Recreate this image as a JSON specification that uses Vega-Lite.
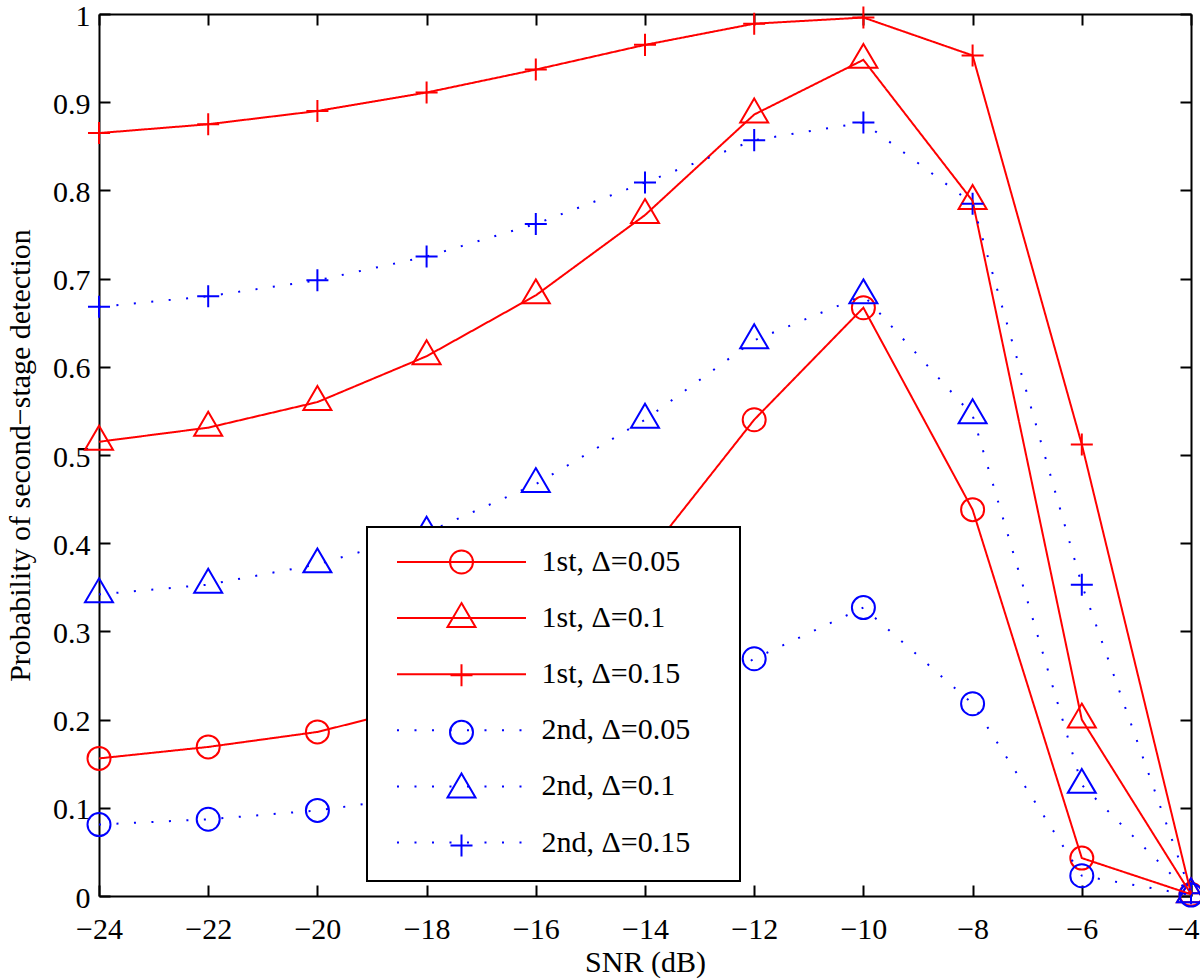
{
  "$schema": "https://vega.github.io/schema/vega-lite/v6.json",
  "width": 1092,
  "height": 882,
  "autosize": {"type": "none"},
  "padding": {"left": 99, "top": 14, "right": 9, "bottom": 84},
  "background": "white",
  "config": {
    "font": "Liberation Serif",
    "view": {"stroke": null},
    "legend": {"strokeWidth": 2},
    "axis": {
      "grid": false,
      "domainColor": "black",
      "domainWidth": 2,
      "tickColor": "black",
      "tickWidth": 2,
      "tickSize": -11,
      "labelFont": "Liberation Serif",
      "labelFontSize": 30,
      "labelColor": "black",
      "titleFont": "Liberation Serif",
      "titleFontSize": 30,
      "titleFontWeight": "normal",
      "titleColor": "black"
    }
  },
  "data": {
    "values": [
      {"snr": -24, "p": 0.156, "curve": "1st, Δ=0.05"},
      {"snr": -22, "p": 0.169, "curve": "1st, Δ=0.05"},
      {"snr": -20, "p": 0.186, "curve": "1st, Δ=0.05"},
      {"snr": -18, "p": 0.217, "curve": "1st, Δ=0.05"},
      {"snr": -16, "p": 0.285, "curve": "1st, Δ=0.05"},
      {"snr": -14, "p": 0.383, "curve": "1st, Δ=0.05"},
      {"snr": -12, "p": 0.540, "curve": "1st, Δ=0.05"},
      {"snr": -10, "p": 0.667, "curve": "1st, Δ=0.05"},
      {"snr": -8, "p": 0.438, "curve": "1st, Δ=0.05"},
      {"snr": -6, "p": 0.043, "curve": "1st, Δ=0.05"},
      {"snr": -4, "p": 0.002, "curve": "1st, Δ=0.05"},
      {"snr": -24, "p": 0.515, "curve": "1st, Δ=0.1"},
      {"snr": -22, "p": 0.531, "curve": "1st, Δ=0.1"},
      {"snr": -20, "p": 0.560, "curve": "1st, Δ=0.1"},
      {"snr": -18, "p": 0.612, "curve": "1st, Δ=0.1"},
      {"snr": -16, "p": 0.681, "curve": "1st, Δ=0.1"},
      {"snr": -14, "p": 0.772, "curve": "1st, Δ=0.1"},
      {"snr": -12, "p": 0.886, "curve": "1st, Δ=0.1"},
      {"snr": -10, "p": 0.948, "curve": "1st, Δ=0.1"},
      {"snr": -8, "p": 0.788, "curve": "1st, Δ=0.1"},
      {"snr": -6, "p": 0.200, "curve": "1st, Δ=0.1"},
      {"snr": -4, "p": 0.002, "curve": "1st, Δ=0.1"},
      {"snr": -24, "p": 0.865, "curve": "1st, Δ=0.15"},
      {"snr": -22, "p": 0.875, "curve": "1st, Δ=0.15"},
      {"snr": -20, "p": 0.890, "curve": "1st, Δ=0.15"},
      {"snr": -18, "p": 0.911, "curve": "1st, Δ=0.15"},
      {"snr": -16, "p": 0.937, "curve": "1st, Δ=0.15"},
      {"snr": -14, "p": 0.965, "curve": "1st, Δ=0.15"},
      {"snr": -12, "p": 0.989, "curve": "1st, Δ=0.15"},
      {"snr": -10, "p": 0.996, "curve": "1st, Δ=0.15"},
      {"snr": -8, "p": 0.953, "curve": "1st, Δ=0.15"},
      {"snr": -6, "p": 0.512, "curve": "1st, Δ=0.15"},
      {"snr": -4, "p": 0.003, "curve": "1st, Δ=0.15"},
      {"snr": -24, "p": 0.081, "curve": "2nd, Δ=0.05"},
      {"snr": -22, "p": 0.087, "curve": "2nd, Δ=0.05"},
      {"snr": -20, "p": 0.097, "curve": "2nd, Δ=0.05"},
      {"snr": -18, "p": 0.114, "curve": "2nd, Δ=0.05"},
      {"snr": -16, "p": 0.146, "curve": "2nd, Δ=0.05"},
      {"snr": -14, "p": 0.196, "curve": "2nd, Δ=0.05"},
      {"snr": -12, "p": 0.269, "curve": "2nd, Δ=0.05"},
      {"snr": -10, "p": 0.327, "curve": "2nd, Δ=0.05"},
      {"snr": -8, "p": 0.218, "curve": "2nd, Δ=0.05"},
      {"snr": -6, "p": 0.023, "curve": "2nd, Δ=0.05"},
      {"snr": -4, "p": 0.001, "curve": "2nd, Δ=0.05"},
      {"snr": -24, "p": 0.342, "curve": "2nd, Δ=0.1"},
      {"snr": -22, "p": 0.353, "curve": "2nd, Δ=0.1"},
      {"snr": -20, "p": 0.376, "curve": "2nd, Δ=0.1"},
      {"snr": -18, "p": 0.412, "curve": "2nd, Δ=0.1"},
      {"snr": -16, "p": 0.467, "curve": "2nd, Δ=0.1"},
      {"snr": -14, "p": 0.540, "curve": "2nd, Δ=0.1"},
      {"snr": -12, "p": 0.630, "curve": "2nd, Δ=0.1"},
      {"snr": -10, "p": 0.681, "curve": "2nd, Δ=0.1"},
      {"snr": -8, "p": 0.545, "curve": "2nd, Δ=0.1"},
      {"snr": -6, "p": 0.126, "curve": "2nd, Δ=0.1"},
      {"snr": -4, "p": 0.002, "curve": "2nd, Δ=0.1"},
      {"snr": -24, "p": 0.668, "curve": "2nd, Δ=0.15"},
      {"snr": -22, "p": 0.680, "curve": "2nd, Δ=0.15"},
      {"snr": -20, "p": 0.698, "curve": "2nd, Δ=0.15"},
      {"snr": -18, "p": 0.725, "curve": "2nd, Δ=0.15"},
      {"snr": -16, "p": 0.762, "curve": "2nd, Δ=0.15"},
      {"snr": -14, "p": 0.809, "curve": "2nd, Δ=0.15"},
      {"snr": -12, "p": 0.857, "curve": "2nd, Δ=0.15"},
      {"snr": -10, "p": 0.877, "curve": "2nd, Δ=0.15"},
      {"snr": -8, "p": 0.785, "curve": "2nd, Δ=0.15"},
      {"snr": -6, "p": 0.353, "curve": "2nd, Δ=0.15"},
      {"snr": -4, "p": 0.003, "curve": "2nd, Δ=0.15"}
    ]
  },
  "layer": [
    {
      "mark": {"type": "point", "filled": false, "strokeWidth": 2, "opacity": 1, "size": 529, "clip": false},
      "encoding": {
        "x": {
          "field": "snr", "type": "quantitative",
          "scale": {"domain": [-24, -4], "nice": false, "zero": false},
          "axis": {"orient": "bottom", "values": [-24, -22, -20, -18, -16, -14, -12, -10, -8, -6, -4], "title": "SNR (dB)", "labelPadding": 29, "titlePadding": 3, "labelFlush": false,
            "labelAlign": {"condition": {"test": "datum.value == -4", "value": "right"}, "value": "center"},
            "labelOffset": {"condition": {"test": "datum.value == -4", "value": 8}, "value": 0}}
        },
        "y": {
          "field": "p", "type": "quantitative",
          "scale": {"domain": [0, 1], "nice": false, "zero": false},
          "axis": {"orient": "left", "values": [0, 0.1, 0.2, 0.3, 0.4, 0.5, 0.6, 0.7, 0.8, 0.9, 1], "format": "~g", "title": "Probability of second−stage detection", "labelPadding": 20, "labelOffset": 2, "titlePadding": 17, "labelFlush": false}
        },
        "color": {
          "field": "curve", "type": "nominal",
          "scale": {"domain": ["1st, Δ=0.05", "1st, Δ=0.1", "1st, Δ=0.15", "2nd, Δ=0.05", "2nd, Δ=0.1", "2nd, Δ=0.15"], "range": ["#ff0000", "#ff0000", "#ff0000", "#0000ff", "#0000ff", "#0000ff"]},
          "legend": {"title": null, "orient": "none", "direction": "vertical", "legendX": 268, "legendY": 513, "symbolSize": 529, "symbolStrokeWidth": 2, "labelExpr": "''", "labelFontSize": 30, "labelOffset": 243, "symbolOffset": 59.5, "padding": 20, "rowPadding": 20.1, "strokeColor": "black", "fillColor": "white"}
        },
        "shape": {
          "field": "curve", "type": "nominal",
          "scale": {"domain": ["1st, Δ=0.05", "1st, Δ=0.1", "1st, Δ=0.15", "2nd, Δ=0.05", "2nd, Δ=0.1", "2nd, Δ=0.15"], "range": [
            "M1,0A1,1 0 1,1 -1,0A1,1 0 1,1 1,0ZM0,-1.4L0,-1.4",
            "M0,-1.39L1.217,0.696L-1.217,0.696ZM0,-1.4L0,-1.4",
            "M-0.957,0H0.957M0,-0.957V0.957M0,-1.4L0,-1.4",
            "M1,0A1,1 0 1,1 -1,0A1,1 0 1,1 1,0ZM0,-1.4L0,-1.4",
            "M0,-1.39L1.217,0.696L-1.217,0.696ZM0,-1.4L0,-1.4",
            "M-0.957,0H0.957M0,-0.957V0.957M0,-1.4L0,-1.4"]},
          "legend": {"title": null, "orient": "none", "direction": "vertical", "legendX": 268, "legendY": 513, "symbolSize": 529, "symbolStrokeWidth": 2, "labelExpr": "''", "labelFontSize": 30, "labelOffset": 243, "symbolOffset": 59.5, "padding": 20, "rowPadding": 20.1, "strokeColor": "black", "fillColor": "white"}
        }
      }
    },
    {
      "mark": {"type": "line", "strokeWidth": 2, "strokeCap": "butt", "clip": false},
      "encoding": {
        "x": {
          "field": "snr", "type": "quantitative",
          "scale": {"domain": [-24, -4], "nice": false, "zero": false},
          "axis": {"orient": "top", "values": [-24, -22, -20, -18, -16, -14, -12, -10, -8, -6, -4], "labels": false, "title": null}
        },
        "y": {
          "field": "p", "type": "quantitative",
          "scale": {"domain": [0, 1], "nice": false, "zero": false},
          "axis": {"orient": "right", "values": [0, 0.1, 0.2, 0.3, 0.4, 0.5, 0.6, 0.7, 0.8, 0.9, 1], "labels": false, "title": null}
        },
        "color": {
          "field": "curve", "type": "nominal",
          "scale": {"domain": ["1st, Δ=0.05", "1st, Δ=0.1", "1st, Δ=0.15", "2nd, Δ=0.05", "2nd, Δ=0.1", "2nd, Δ=0.15"], "range": ["#ff0000", "#ff0000", "#ff0000", "#0000ff", "#0000ff", "#0000ff"]},
          "legend": {"title": null, "orient": "none", "direction": "vertical", "legendX": 268, "legendY": 513, "symbolType": "M-5.61,0H5.61M0,-1.4L0,-1.4", "symbolSize": 529, "symbolStrokeWidth": 2, "labelFont": "Liberation Serif", "labelFontSize": 30, "labelColor": "black", "labelLimit": 400, "labelOffset": 65, "symbolOffset": 59.5, "padding": 20, "rowPadding": 20.1, "strokeColor": null, "fillColor": null}
        },
        "strokeDash": {
          "field": "curve", "type": "nominal",
          "scale": {"domain": ["1st, Δ=0.05", "1st, Δ=0.1", "1st, Δ=0.15", "2nd, Δ=0.05", "2nd, Δ=0.1", "2nd, Δ=0.15"], "range": [[1, 0], [1, 0], [1, 0], [2, 15.5], [2, 15.5], [2, 15.5]]},
          "legend": {"title": null, "orient": "none", "direction": "vertical", "legendX": 268, "legendY": 513, "symbolType": "M-5.61,0H5.61M0,-1.4L0,-1.4", "symbolSize": 529, "symbolStrokeWidth": 2, "labelFont": "Liberation Serif", "labelFontSize": 30, "labelColor": "black", "labelLimit": 400, "labelOffset": 65, "symbolOffset": 59.5, "padding": 20, "rowPadding": 20.1, "strokeColor": null, "fillColor": null}
        }
      }
    }
  ],
  "resolve": {
    "scale": {"color": "independent", "strokeDash": "independent", "shape": "independent"},
    "axis": {"x": "independent", "y": "independent"}
  }
}
